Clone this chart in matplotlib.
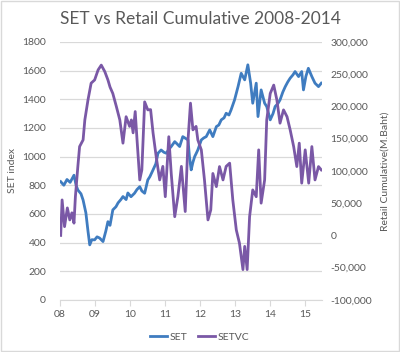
import numpy as np
import matplotlib
matplotlib.use("Agg")
import matplotlib.pyplot as plt
from matplotlib.ticker import FuncFormatter, FixedLocator

# SET index, x in decimal years
set_year = [2008.02, 2008.11, 2008.20, 2008.29, 2008.40, 2008.46, 2008.51, 2008.60,
            2008.66, 2008.74, 2008.80, 2008.85, 2008.91, 2008.99, 2009.06, 2009.13,
            2009.23, 2009.31, 2009.37, 2009.43, 2009.51, 2009.60, 2009.66, 2009.74,
            2009.80, 2009.89, 2009.94, 2010.03, 2010.13, 2010.20, 2010.28, 2010.34,
            2010.42, 2010.51, 2010.57, 2010.66, 2010.74, 2010.80, 2010.89, 2010.97,
            2011.04, 2011.11, 2011.18, 2011.28, 2011.34, 2011.42, 2011.51, 2011.57,
            2011.66, 2011.70, 2011.75, 2011.80, 2011.85, 2011.89, 2011.94, 2012.04,
            2012.11, 2012.18, 2012.28, 2012.37, 2012.47, 2012.54, 2012.61, 2012.69,
            2012.75, 2012.83, 2012.89, 2012.99, 2013.09, 2013.18, 2013.28, 2013.37,
            2013.45, 2013.51, 2013.61, 2013.66, 2013.75, 2013.85, 2013.91, 2014.01,
            2014.09, 2014.15, 2014.23, 2014.29, 2014.37, 2014.44, 2014.51, 2014.58,
            2014.66, 2014.72, 2014.82, 2014.91, 2014.96, 2015.03, 2015.10, 2015.20,
            2015.29, 2015.39, 2015.47]
set_value = [825, 800, 840, 820, 870, 800, 767, 740,
             697, 607, 480, 384, 420, 419, 440, 432,
             407, 480, 546, 520, 628, 650, 677, 700,
             721, 700, 746, 720, 744, 770, 790, 760,
             744, 837, 860, 907, 950, 1023, 1046, 1030,
             1023, 1050, 1070, 1104, 1090, 1070, 1139, 1130,
             1116, 1000, 907, 960, 1000, 1020, 1046, 1116,
             1130, 1139, 1186, 1139, 1209, 1220, 1256, 1270,
             1302, 1290, 1325, 1395, 1488, 1581, 1535, 1640,
             1512, 1372, 1512, 1279, 1465, 1372, 1349, 1256,
             1300, 1349, 1370, 1395, 1450, 1488, 1520, 1547,
             1570, 1593, 1558, 1593, 1465, 1560, 1616, 1558,
             1512, 1488, 1512]

# Retail cumulative net buy (M.Baht)
vc_year = [2008.02, 2008.06, 2008.13, 2008.21, 2008.28, 2008.34, 2008.40, 2008.44,
           2008.51, 2008.56, 2008.66, 2008.71, 2008.80, 2008.89, 2008.99, 2009.09,
           2009.18, 2009.28, 2009.37, 2009.43, 2009.51, 2009.61, 2009.71, 2009.80,
           2009.89, 2009.99, 2010.04, 2010.09, 2010.15, 2010.20, 2010.28, 2010.34,
           2010.42, 2010.51, 2010.59, 2010.66, 2010.75, 2010.85, 2010.94, 2011.01,
           2011.11, 2011.18, 2011.28, 2011.37, 2011.47, 2011.58, 2011.66, 2011.73,
           2011.80, 2011.89, 2011.94, 2012.04, 2012.13, 2012.23, 2012.31, 2012.37,
           2012.47, 2012.56, 2012.66, 2012.75, 2012.85, 2012.94, 2013.04, 2013.13,
           2013.23, 2013.28, 2013.35, 2013.42, 2013.51, 2013.61, 2013.68, 2013.75,
           2013.85, 2013.91, 2014.01, 2014.11, 2014.20, 2014.29, 2014.39, 2014.49,
           2014.58, 2014.68, 2014.77, 2014.84, 2014.91, 2015.01, 2015.11, 2015.20,
           2015.29, 2015.39, 2015.47]
vc_value = [0, 55000, 13600, 42600, 24000, 35000, 19000, 60000,
            106700, 137700, 148000, 179000, 210000, 236000, 241000, 256600,
            264000, 254000, 241000, 230000, 220000, 200000, 179000, 143000,
            184000, 169000, 179000, 159000, 192000, 150000, 86000, 101500,
            207000, 194600, 195000, 159000, 122000, 86000, 107000, 60000,
            153000, 96000, 29000, 60000, 107000, 37000, 148000, 205000,
            163600, 169000, 148000, 132600, 86000, 24000, 39500, 96000,
            75600, 106700, 86000, 107000, 112000, 55000, 8500, -12000,
            -53000, -17000, -53000, 29000, 70500, 60000, 132600, 50000,
            86000, 179000, 220000, 233000, 210000, 174000, 194600, 184000,
            163600, 137700, 106700, 143000, 81000, 132600, 81000, 137700,
            86000, 106700, 101500]

year_ticks = [2008, 2009, 2010, 2011, 2012, 2013, 2014, 2015]
year_labels = ["08", "09", "10", "11", "12", "13", "14", "15"]

plt.rcParams['font.family'] = ['Lato', 'DejaVu Sans']
grey = "#595959"

fig = plt.figure(figsize=(4.0, 3.52), dpi=100)
ax = fig.add_axes([0.15, 0.148, 0.655, 0.733])
ax2 = ax.twinx()

l1, = ax.plot(set_year, set_value, color="#3f7cc0", lw=2.0, label="SET")
l2, = ax2.plot(vc_year, vc_value, color="#7a58a6", lw=2.0, label="SETVC")

ax.set_xlim(2008.0, 2015.49)
ax.set_ylim(0, 1800)
ax.set_yticks(np.arange(0, 1801, 200))
ax2.set_ylim(-100000, 300000)
ax2.set_yticks(np.arange(-100000, 300001, 50000))
ax2.yaxis.set_major_formatter(FuncFormatter(lambda v, p: f"{int(v):,}"))
ax.xaxis.set_major_locator(FixedLocator(year_ticks))
ax.set_xticklabels(year_labels)

ax.grid(axis="y", color="#d9d9d9", lw=0.9)
ax.set_axisbelow(True)
for a in (ax, ax2):
    for s in a.spines.values():
        s.set_visible(False)
ax.spines["bottom"].set_visible(True)
ax.spines["bottom"].set_color("#d9d9d9")

ax.tick_params(axis="y", length=0, labelsize=7.5, labelcolor=grey, pad=10)
ax2.tick_params(axis="y", length=0, labelsize=7.5, labelcolor=grey, pad=6)
ax.tick_params(axis="x", length=4, color="#d9d9d9", labelsize=7.5, labelcolor=grey, pad=3)

ax.set_ylabel("SET index", fontsize=7.5, color=grey, labelpad=4)
ax2.set_ylabel("Retail Cumulative(M.Baht)", fontsize=7.5, color=grey, labelpad=6)

fig.text(0.5, 0.947, "SET vs Retail Cumulative 2008-2014", ha="center", va="center",
         fontsize=12.5, color=grey)

fig.legend([l1, l2], ["SET", "SETVC"], loc="center", bbox_to_anchor=(0.5, 0.043),
           ncol=2, frameon=False, fontsize=7.5, labelcolor=grey, handlelength=1.6,
           handletextpad=0.3, columnspacing=1.0)

fig.patches.append(plt.Rectangle((0.002, 0.002), 0.996, 0.996, transform=fig.transFigure,
                                 fill=False, edgecolor="#d9d9d9", lw=1))

fig.savefig("out.png", dpi=100)
